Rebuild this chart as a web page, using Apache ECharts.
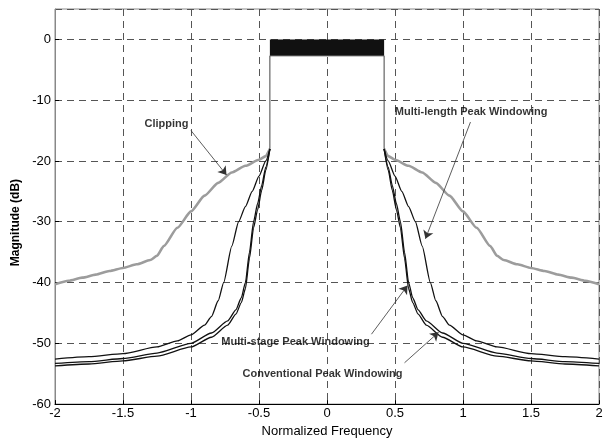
<!DOCTYPE html>
<html lang="en">
<head>
  <meta charset="UTF-8" />
  <title>Spectrum - peak windowing</title>
  <script src="https://cdn.jsdelivr.net/npm/echarts@6/dist/echarts.min.js"></script>
  <style>
    body { margin: 0; background: #fff; }
    #chart { width: 610px; height: 443px; }
  </style>
</head>
<body>
  <div id="chart"></div>
  <script>
    // passband edge and level (normalized freq, dB)
    const bandEdge = 0.42;
    const bandLow = -2.7;
    const edgeDrop = -18;

    // right-hand half of each spectrum (the plot is symmetric about 0)
    const clipF  = [0.42, 0.45, 0.5, 0.6, 0.7, 0.8, 0.9, 1.0, 1.1, 1.2, 1.25, 1.3, 1.4, 1.5, 1.6, 1.7, 1.8, 1.9, 2.0];
    const clipDb = [-18, -19.2, -19.8, -20.8, -21.9, -23.6, -25.7, -28.3, -31.0, -34.0, -35.6, -36.3, -37.0, -37.6, -38.1, -38.7, -39.2, -39.7, -40.3];

    const mlF  = [0.42, 0.45, 0.5, 0.55, 0.6, 0.65, 0.7, 0.76, 0.8, 0.85, 0.9, 1.0, 1.1, 1.25, 1.5, 1.75, 2.0];
    const mlDb = [-18, -20, -22.5, -25, -27.5, -30, -34, -40, -43, -45.6, -47, -48.6, -49.6, -50.6, -51.7, -52.2, -52.6];

    const msF  = [0.42, 0.45, 0.48, 0.51, 0.54, 0.57, 0.6, 0.63, 0.67, 0.73, 0.85, 1.0, 1.25, 1.5, 1.75, 2.0];
    const msDb = [-18, -21, -24, -27, -30, -35, -40, -42.5, -44.5, -46.3, -48.3, -50, -51.6, -52.5, -53, -53.3];

    const cvF  = [0.42, 0.45, 0.48, 0.51, 0.54, 0.57, 0.6, 0.63, 0.67, 0.73, 0.85, 1.0, 1.25, 1.5, 1.75, 2.0];
    const cvDb = [-18, -21.5, -24.8, -28, -31, -36, -41, -43.3, -45.2, -47, -49, -50.6, -52.1, -52.9, -53.4, -53.7];

    const noteText = ['Clipping', 'Multi-length Peak Windowing', 'Multi-stage Peak Windowing', 'Conventional Peak Windowing'];

    // label anchors and arrows, in data units
    const notes = [
      { at: [-1.18, -13.9], from: [-1.0, -15.0], to: [-0.739, -22.3] },
      { at: [1.06, -12.0], from: [1.055, -13.6], to: [0.724, -32.8] },
      { at: [-0.232, -49.7], from: [0.327, -48.5], to: [0.592, -40.5] },
      { at: [-0.033, -55.0], from: [0.57, -53.2], to: [0.82, -48.2] }
    ];

    const right = (f, d) => f.map((x, i) => [x, d[i]]);
    const left = (f, d) => f.map((x, i) => [-x, d[i]]).reverse();

    const chart = echarts.init(document.getElementById('chart'));

    const curve = (name, f, d, color, width) => [left, right].map(side => ({
      name: name,
      type: 'line',
      data: side(f, d),
      showSymbol: false,
      smooth: 0.2,
      smoothMonotone: 'x',
      lineStyle: { color: color, width: width },
      z: width > 2 ? 2 : 3,
      silent: true
    }));

    const series = [
      {
        name: 'passband',
        type: 'line',
        data: [[-bandEdge, edgeDrop], [-bandEdge, bandLow], [bandEdge, bandLow], [bandEdge, edgeDrop]],
        showSymbol: false,
        lineStyle: { color: '#444', width: 1 },
        areaStyle: { color: '#111', opacity: 1 },
        z: 4,
        silent: true
      },
      ...curve('Clipping', clipF, clipDb, '#9c9c9c', 2.6),
      ...curve('Multi-length', mlF, mlDb, '#111', 1.3),
      ...curve('Multi-stage', msF, msDb, '#111', 1.3),
      ...curve('Conventional', cvF, cvDb, '#111', 1.3),
      {
        name: 'notes',
        type: 'scatter',
        symbolSize: 0,
        data: notes.map((n, i) => ({ value: n.at, name: noteText[i] })),
        label: {
          show: true,
          position: 'inside',
          formatter: p => p.name,
          color: '#000',
          fontFamily: 'Liberation Sans, Arial, sans-serif',
          fontWeight: 'bold',
          fontSize: 11
        },
        markLine: {
          silent: true,
          symbol: ['none', 'arrow'],
          symbolSize: 8,
          label: { show: false },
          lineStyle: { color: '#333', width: 0.8, type: 'solid' },
          data: notes.map(n => [{ coord: n.from }, { coord: n.to }])
        },
        z: 6,
        silent: true
      }
    ];

    chart.setOption({
      animation: false,
      backgroundColor: '#fff',
      grid: {
        left: 55, right: 11, top: 9, bottom: 32,
        show: true, borderColor: '#888', borderWidth: 1
      },
      xAxis: {
        type: 'value',
        min: -2, max: 2, interval: 0.5,
        name: 'Normalized Frequency',
        nameLocation: 'middle',
        nameGap: 18,
        nameTextStyle: { color: '#000', fontSize: 13, fontFamily: 'Liberation Sans, Arial, sans-serif' },
        axisLine: { onZero: false, lineStyle: { color: '#000', width: 1 } },
        axisTick: { inside: true, length: 4, lineStyle: { color: '#000' } },
        axisLabel: { color: '#000', fontSize: 13, margin: 3, fontFamily: 'Liberation Sans, Arial, sans-serif' },
        splitLine: { lineStyle: { color: '#555', type: [7, 5], width: 1 } }
      },
      yAxis: {
        type: 'value',
        min: -60, max: 5, interval: 10,
        name: 'Magnitude (dB)',
        nameLocation: 'middle',
        nameGap: 27,
        nameTextStyle: { color: '#000', fontSize: 12, fontWeight: 'bold', fontFamily: 'Liberation Sans, Arial, sans-serif', padding: [0, 32, 0, 0] },
        axisLine: { show: true, onZero: false, lineStyle: { color: '#888', width: 1 } },
        axisTick: { inside: true, length: 4, lineStyle: { color: '#000' } },
        axisLabel: { color: '#000', fontSize: 13, margin: 4, showMaxLabel: false, fontFamily: 'Liberation Sans, Arial, sans-serif' },
        splitLine: { lineStyle: { color: '#555', type: [7, 5], width: 1 } }
      },
      series: series
    });
  </script>
</body>
</html>
